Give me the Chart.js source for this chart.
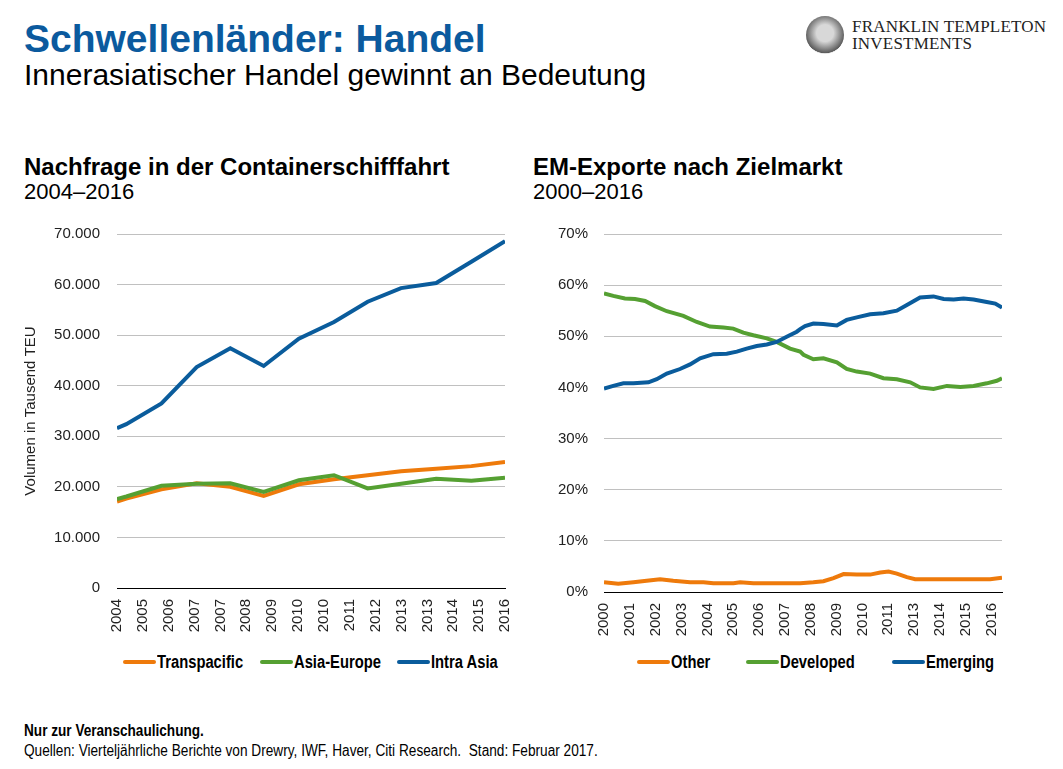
<!DOCTYPE html>
<html>
<head>
<meta charset="utf-8">
<script src="https://cdn.jsdelivr.net/npm/chart.js@4"></script>
<style>
  body { margin:0; width:1063px; height:769px; background:#fff; position:relative; overflow:hidden;
         font-family:"Liberation Sans", Arial, sans-serif; color:#000; }
  .t { position:absolute; white-space:nowrap; line-height:1; }
  .cond { transform-origin:0 50%; }
  canvas { position:absolute; }
  .item { position:absolute; top:652px; height:20px; display:flex; align-items:center; white-space:nowrap;
          font-weight:bold; font-size:18px; line-height:1; }
  .item .sw { width:33px; height:4px; border-radius:2px; margin-right:1px; flex:none; }
  .item .lbl { display:inline-block; transform:scaleX(0.82); transform-origin:0 50%; }
  #logo { position:absolute; left:806px; top:16px; width:38px; height:38px; border-radius:50%;
          background:radial-gradient(circle at 50% 45%, #d8d8d8 0 30%, #8a8a8a 55%, #5a5a5a 70%, #dcdcdc 72%); }
</style>
</head>
<body>
<div class="t" style="left:24px;top:18.7px;font-size:39px;font-weight:bold;color:#0B5A9E">Schwellenländer: Handel</div>
<div class="t" style="left:24px;top:59.6px;font-size:30px">Innerasiatischer Handel gewinnt an Bedeutung</div>

<div id="logo"></div>
<div class="t" style="left:852px;top:18px;font-family:'Liberation Serif',serif;font-size:17px;color:#222;letter-spacing:0.2px">FRANKLIN TEMPLETON</div>
<div class="t" style="left:852px;top:35px;font-family:'Liberation Serif',serif;font-size:17px;color:#222;letter-spacing:0.2px">INVESTMENTS</div>

<div class="t" style="left:24px;top:154.7px;font-size:24px;font-weight:bold">Nachfrage in der Containerschifffahrt</div>
<div class="t" style="left:24px;top:181.4px;font-size:22px">2004–2016</div>
<div class="t" style="left:533px;top:154.7px;font-size:24px;font-weight:bold">EM-Exporte nach Zielmarkt</div>
<div class="t" style="left:533px;top:181.4px;font-size:22px">2000–2016</div>

<canvas id="left" width="520" height="420" style="left:0;top:220px"></canvas>
<canvas id="right" width="500" height="420" style="left:520px;top:220px"></canvas>

<div id="legends"></div>

<div class="t" style="left:24px;top:722.5px;font-size:16px;font-weight:bold;transform:scaleX(0.85);transform-origin:0 0">Nur zur Veranschaulichung.</div>
<div class="t" style="left:24px;top:742.5px;font-size:16px;transform:scaleX(0.853);transform-origin:0 0">Quellen: Vierteljährliche Berichte von Drewry, IWF, Haver, Citi Research.&nbsp; Stand: Februar 2017.</div>

<script>
const ORANGE = '#EE7A0B'
const GREEN = '#55A032'
const BLUE = '#0A5C9C'

// left chart: container shipping demand (thousand TEU), x in tick-label units
const shipLabels = ['2004','2005','2006','2007','2007','2008','2009','2010','2010','2011','2012','2013','2013','2014','2015','2016']
const shipX = [0, 0.36, 1.72, 3.08, 4.38, 5.67, 7.03, 8.39, 9.69, 10.98, 12.34, 13.7, 15]
const transpacific = [17100, 17700, 19500, 20700, 20000, 18200, 20500, 21500, 22300, 23100, 23600, 24100, 24900]
const asiaEurope = [17600, 18100, 20200, 20600, 20700, 19000, 21300, 22300, 19700, 20600, 21600, 21200, 21800]
const intraAsia = [31600, 32400, 36500, 43700, 47400, 43900, 49300, 52600, 56600, 59300, 60300, 64500, 68600]

// right chart: EM exports by destination (%), pairs of [x in tick-label units, value]
const emLabels = ['2000','2001','2002','2003','2004','2005','2006','2007','2008','2009','2010','2011','2013','2014','2015','2016']
const other = [[0,1.9],[0.55,1.6],[1.14,1.9],[1.65,2.2],[2.17,2.5],[2.68,2.2],[3.33,1.9],[3.85,1.9],[4.23,1.7],[5.01,1.7],
  [5.27,1.9],[5.78,1.7],[6.56,1.7],[7.59,1.7],[8.1,1.9],[8.49,2.1],[8.88,2.7],[9.27,3.5],[9.78,3.4],[10.3,3.4],[10.69,3.8],
  [11.01,4.0],[11.33,3.6],[11.72,2.9],[12.04,2.5],[12.75,2.5],[14.04,2.5],[14.94,2.5],[15.4,2.8]]
const developed = [[0,58.4],[0.36,57.9],[0.81,57.4],[1.2,57.3],[1.59,56.9],[1.97,55.9],[2.43,54.9],[3.07,54.0],[3.59,52.8],
  [4.1,51.9],[4.62,51.7],[5.0,51.5],[5.39,50.7],[5.78,50.2],[6.3,49.6],[6.68,48.9],[7.2,47.6],[7.59,47.0],[7.72,46.4],
  [8.1,45.5],[8.49,45.7],[9.01,44.9],[9.39,43.6],[9.78,43.1],[10.3,42.7],[10.81,41.8],[11.33,41.6],[11.85,41.0],[12.23,40.0],
  [12.75,39.7],[13.27,40.3],[13.79,40.1],[14.3,40.3],[14.81,40.8],[15.2,41.3],[15.4,41.8]]
const emerging = [[0,39.8],[0.36,40.3],[0.75,40.8],[1.14,40.8],[1.72,41.0],[2.04,41.6],[2.43,42.7],[2.94,43.6],[3.33,44.5],
  [3.72,45.7],[4.23,46.5],[4.75,46.6],[5.14,47.0],[5.52,47.6],[5.91,48.1],[6.3,48.4],[6.68,48.9],[7.07,49.9],[7.46,50.9],
  [7.59,51.4],[7.78,52.0],[8.1,52.5],[8.49,52.4],[9.01,52.1],[9.39,53.2],[9.78,53.7],[10.3,54.3],[10.81,54.5],[11.33,55.0],
  [11.72,56.1],[12.23,57.6],[12.75,57.8],[13.14,57.3],[13.53,57.2],[13.91,57.4],[14.3,57.2],[14.81,56.7],[15.14,56.4],[15.4,55.6]]

const tickFont = {family:"'Liberation Sans', Arial, sans-serif", size:15}
const GRID = '#c0c0c0'

function line(label, data, color, order){
  return {label, data, borderColor:color, backgroundColor:color, borderWidth:4, pointRadius:0, tension:0, order}
}

function xAxis(labels, max, height){
  return {
    type:'linear', min:0, max,
    afterBuildTicks: s => { s.ticks = labels.map((_, i) => ({value:i})) },
    afterFit: s => { s.height = height; s.paddingLeft = 0; s.paddingRight = 0 },
    ticks:{ callback: v => labels[v], autoSkip:false, minRotation:90, maxRotation:90, padding:11, color:'#222', font:tickFont },
    grid:{ display:true, drawOnChartArea:false, drawTicks:false },
    border:{ display:true, color:'#000', width:1 }
  }
}

function yAxis(width, max, fmt, pad){
  return {
    min:0, max,
    afterFit: s => { s.width = width; s.paddingTop = 0; s.paddingBottom = 0 },
    ticks:{ stepSize: max/7, callback: fmt, padding:pad, color:'#222', font:tickFont },
    grid:{ color: c => c.tick && c.tick.value === 0 ? 'rgba(0,0,0,0)' : GRID, lineWidth:1, drawTicks:false },
    border:{ display:false }
  }
}

const common = {
  responsive:false, animation:false,
  plugins:{ legend:{display:false}, tooltip:{enabled:false} }
}

new Chart(document.getElementById('left'), {
  type:'line',
  data:{ datasets:[
    line('Transpacific', shipX.map((x, i) => ({x, y:transpacific[i]})), ORANGE, 3),
    line('Asia-Europe', shipX.map((x, i) => ({x, y:asiaEurope[i]})), GREEN, 2),
    line('Intra Asia', shipX.map((x, i) => ({x, y:intraAsia[i]})), BLUE, 1)
  ]},
  options:{ ...common,
    layout:{ padding:{ top:14, right:15, left:0, bottom:0 } },
    scales:{
      x: xAxis(shipLabels, 15, 52),
      y: { ...yAxis(117, 70000, v => v === 0 ? '0' : (v/1000) + '.000', 17),
           title:{ display:true, text:'Volumen in Tausend TEU', color:'#222',
                   font:{family:"'Liberation Sans', sans-serif", size:15}, padding:{top:22} } }
    }
  }
})

new Chart(document.getElementById('right'), {
  type:'line',
  data:{ datasets:[
    line('Other', other.map(p => ({x:p[0], y:p[1]})), ORANGE, 3),
    line('Developed', developed.map(p => ({x:p[0], y:p[1]})), GREEN, 2),
    line('Emerging', emerging.map(p => ({x:p[0], y:p[1]})), BLUE, 1)
  ]},
  options:{ ...common,
    layout:{ padding:{ top:14, right:18, left:0, bottom:0 } },
    scales:{
      x: xAxis(emLabels, 15.4, 48),
      y: yAxis(84, 70, v => v + '%', 16)
    }
  }
})

// html legends below each chart
const legendHost = document.getElementById('legends')
function legend(items, lefts){
  items.forEach((it, i) => {
    const d = document.createElement('div')
    d.className = 'item'
    d.style.left = lefts[i] + 'px'
    d.innerHTML = '<span class="sw" style="background:' + it[1] + '"></span><span class="lbl">' + it[0] + '</span>'
    legendHost.appendChild(d)
  })
}
legend([['Transpacific', ORANGE], ['Asia-Europe', GREEN], ['Intra Asia', BLUE]], [123, 260, 397])
legend([['Other', ORANGE], ['Developed', GREEN], ['Emerging', BLUE]], [637, 746, 892])
</script>
</body>
</html>
